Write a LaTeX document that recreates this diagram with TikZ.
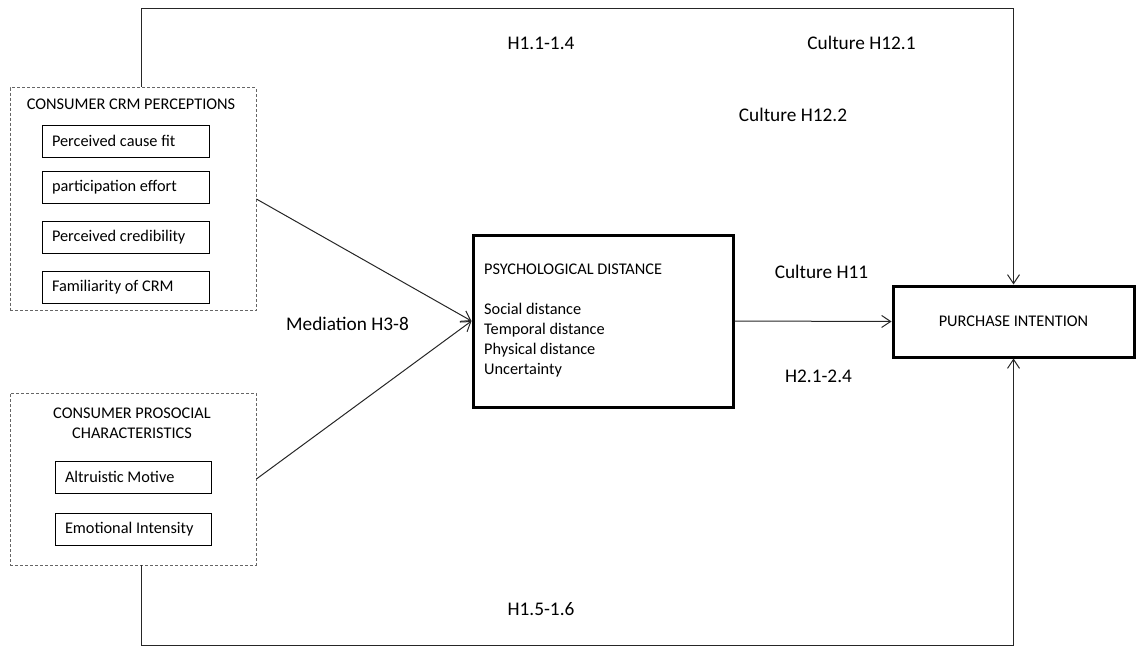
\documentclass[tikz,border=0pt]{standalone}
\usepackage{fontspec}
\setmainfont{Carlito}
\usetikzlibrary{arrows.meta}
\newcommand{\itemtxt}[2]{\makebox[#1][l]{#2}}
\begin{document}
\begin{tikzpicture}[x=1pt,y=-1pt,
  every node/.style={font=\fontsize{16.3}{20}\selectfont, inner sep=0pt},
  dashbox/.style={draw=black!60, dash pattern=on 3pt off 2pt, line width=0.8pt},
  itembox/.style={draw=black, line width=1pt, minimum height=32pt, inner xsep=10pt},
  thickbox/.style={draw=black, line width=3pt},
  lbl/.style={font=\fontsize{19.3}{22}\selectfont},
  conn/.style={draw=black!85, line width=1pt},
  arr/.style={conn, -{Straight Barb[length=9pt, width=12pt, line width=1pt]}}
]
\useasboundingbox (0,0) rectangle (1140,648);

% dashed group boxes
\node[dashbox, minimum width=246pt, minimum height=223pt] (crm) at (133,199) {};
\node[dashbox, minimum width=246pt, minimum height=172pt] (pro) at (133,479) {};

\node (crmt) at (131,104) {CONSUMER CRM PERCEPTIONS};
\node[align=center] (prot) at (132,423) {CONSUMER PROSOCIAL\\CHARACTERISTICS};

\node[itembox] (i1) at (125.5,141) {\itemtxt{147pt}{Perceived cause fit}};
\node[itembox] (i2) at (125.5,187) {\itemtxt{147pt}{participation effort}};
\node[itembox] (i3) at (125.5,237.5) {\itemtxt{147pt}{Perceived credibility}};
\node[itembox] (i4) at (125.5,287) {\itemtxt{147pt}{Familiarity of CRM}};

\node[itembox] (j1) at (133,477) {\itemtxt{136pt}{Altruistic Motive}};
\node[itembox] (j2) at (133,529) {\itemtxt{136pt}{Emotional Intensity}};

% psychological distance
\node[thickbox, minimum width=260pt, minimum height=172pt] (pd) at (603,321) {};
\node[align=left, anchor=north west] (pdt) at (484,264)
  {PSYCHOLOGICAL DISTANCE\\[20pt]Social distance\\Temporal distance\\Physical distance\\Uncertainty};

% purchase intention
\node[thickbox, minimum width=241pt, minimum height=71pt] (pi) at (1013.5,321.5) {PURCHASE INTENTION};

% connectors
\coordinate (tl) at (141,8);
\coordinate (bl) at (141,645);
\draw[arr] (crm.north -| tl) -- (tl) -| (pi.north);
\draw[arr] (pro.south -| bl) -- (bl) -| (pi.south);
\draw[arr] (crm.east) -- (pd.west);
\draw[arr] (pro.east) -- (pd.west);
\draw[arr] (pd.east) -- (pi.west);

% labels
\node[lbl] (l1) at (541,43) {H1.1-1.4};
\node[lbl] (l2) at (861.5,43) {Culture H12.1};
\node[lbl] (l3) at (793,115) {Culture H12.2};
\node[lbl] (l4) at (821.5,272) {Culture H11};
\node[lbl] (l5) at (347.5,324) {Mediation H3-8};
\node[lbl] (l6) at (818.5,376) {H2.1-2.4};
\node[lbl] (l7) at (541,609) {H1.5-1.6};
\end{tikzpicture}
\end{document}
